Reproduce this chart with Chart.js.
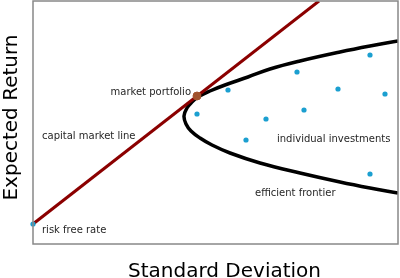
<!DOCTYPE html>
<html>
<head>
<meta charset="utf-8">
<script src="https://cdn.jsdelivr.net/npm/chart.js@4"></script>
<style>
  html, body { margin: 0; padding: 0; background: #fff; }
  #wrap { width: 400px; height: 278px; }
</style>
</head>
<body>
<div id="wrap"><canvas id="chart"></canvas></div>
<script>
// values (arbitrary units)
const frontierX = [365, 337, 307, 267, 237, 215, 192, 177, 165, 159, 154, 151, 153, 158, 167, 179, 197, 227, 267, 307, 337, 365];
const frontierY = [203, 198, 192, 183, 175, 167, 159, 153, 147, 142, 136, 128, 120, 113, 106, 99, 91, 81, 71, 62, 56, 51];

const cmlX = [0, 286];
const cmlY = [20, 243];

const investX = [195, 264, 337, 305, 352, 271, 233, 213, 164, 337, 0];
const investY = [154, 172, 189, 155, 150, 134, 125, 104, 130, 70, 20];

const marketX = [164];
const marketY = [148];

const noteText = ['market portfolio', 'capital market line', 'risk free rate', 'individual investments', 'efficient frontier'];
const noteX = [158, 9, 9, 244, 222];
const noteY = [152, 108, 14, 105, 51];
const noteAlign = ['right', 'left', 'left', 'left', 'left'];

const xTitle = 'Standard Deviation';
const yTitle = 'Expected Return';

const pts = (xs, ys) => xs.map((x, i) => ({ x: x, y: ys[i] }));

const frame = {
  id: 'frame',
  afterDraw(chart) {
    const { ctx, chartArea: a, scales } = chart;
    ctx.save();
    ctx.strokeStyle = '#888';
    ctx.lineWidth = 1.5;
    ctx.strokeRect(a.left, a.top, a.right - a.left, a.bottom - a.top);

    ctx.fillStyle = '#262626';
    ctx.font = '10px "DejaVu Sans"';
    ctx.textBaseline = 'middle';
    noteText.forEach((t, i) => {
      ctx.textAlign = noteAlign[i];
      ctx.fillText(t, scales.x.getPixelForValue(noteX[i]), scales.y.getPixelForValue(noteY[i]));
    });

    // axis titles
    ctx.fillStyle = '#000';
    ctx.font = '20px "DejaVu Sans"';
    ctx.textAlign = 'center';
    ctx.textBaseline = 'alphabetic';
    ctx.fillText(xTitle, (a.left + a.right) / 2 + 9, a.bottom + 33);
    ctx.translate(a.left - 21, (a.top + a.bottom) / 2 - 5);
    ctx.rotate(-Math.PI / 2);
    ctx.textBaseline = 'middle';
    ctx.fillText(yTitle, 0, 0);
    ctx.restore();
  }
};

new Chart(document.getElementById('chart'), {
  type: 'scatter',
  data: {
    datasets: [
      {
        data: pts(marketX, marketY),
        backgroundColor: '#a0522d',
        borderColor: '#a0522d',
        pointRadius: 4,
        clip: false,
        order: 0
      },
      {
        data: pts(investX, investY),
        backgroundColor: '#1b9fd0',
        borderColor: '#1b9fd0',
        pointRadius: 2.6,
        borderWidth: 0,
        clip: false,
        order: 1
      },
      {
        data: pts(cmlX, cmlY),
        showLine: true,
        borderColor: '#8b0000',
        borderWidth: 3,
        pointRadius: 0,
        order: 2
      },
      {
        data: pts(frontierX, frontierY),
        showLine: true,
        borderColor: '#000',
        borderWidth: 3.5,
        pointRadius: 0,
        tension: 0.4,
        order: 3
      }
    ]
  },
  options: {
    responsive: true,
    maintainAspectRatio: false,
    animation: false,
    layout: { autoPadding: false, padding: { top: 1, right: 2, left: 0, bottom: 0 } },
    plugins: { legend: { display: false }, tooltip: { enabled: false } },
    scales: {
      x: {
        min: 0, max: 365,
        ticks: { display: false },
        grid: { display: false },
        border: { display: false },
        afterFit(s) { s.height = 34; }
      },
      y: {
        min: 0, max: 243,
        ticks: { display: false },
        grid: { display: false },
        border: { display: false },
        afterFit(s) { s.width = 33; }
      }
    }
  },
  plugins: [frame]
});
</script>
</body>
</html>
